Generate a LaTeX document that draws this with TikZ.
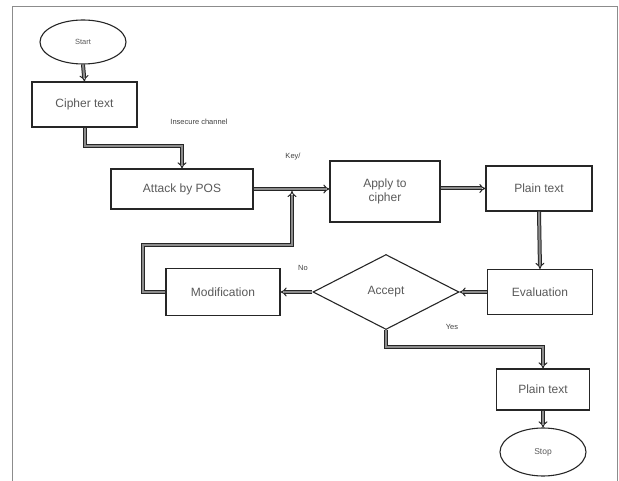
\documentclass[tikz,border=0pt]{standalone}
\usepackage{fontspec}
\setmainfont{Liberation Sans}
\usetikzlibrary{shapes.geometric,arrows.meta}
\tikzset{
  box/.style={draw=black!85, line width=1.1pt, rectangle, inner sep=2pt, text=black!65, font=\fontsize{12}{14}\selectfont, align=center},
  oval/.style={draw=black!85, line width=1.1pt, ellipse, inner sep=0pt, text=black!65},
  dia/.style={draw=black!85, line width=1.1pt, diamond, inner sep=0pt, text=black!65, font=\fontsize{12}{14}\selectfont},
  arr/.style={line width=1pt, draw=black!85, double=black!45, double distance=2pt, -{Implies}},
  lbl/.style={text=black!75, font=\fontsize{7.5}{8}\selectfont, inner sep=0pt},
  frame/.style={draw=black!45, line width=1pt}
}
\begin{document}
\begin{tikzpicture}[x=1pt,y=-1pt]
\useasboundingbox (0,0) rectangle (619,481);
\draw[frame] (12,481) -- (12,7) -- (617,7) -- (617,481);

\node[oval, minimum width=86pt, minimum height=44pt, font=\fontsize{7.5}{8}\selectfont] (start) at (83,42) {Start};
\node[box, minimum width=105pt, minimum height=45pt] (cipher) at (84.5,104.5) {Cipher text};
\node[box, minimum width=142pt, minimum height=40pt] (attack) at (182,189) {Attack by POS};
\node[box, minimum width=110pt, minimum height=61pt] (apply) at (385,191.5) {Apply to\\cipher};
\node[box, minimum width=106pt, minimum height=45pt] (plain1) at (539,188.5) {Plain text};
\node[box, minimum width=105pt, minimum height=45pt] (eval) at (540,292) {Evaluation};
\node[dia, minimum width=146pt, minimum height=75pt] (accept) at (386,292) {Accept};
\node[box, minimum width=114pt, minimum height=47pt] (modif) at (223,292) {Modification};
\node[box, minimum width=93pt, minimum height=41pt] (plain2) at (543,389.5) {Plain text};
\node[oval, minimum width=86pt, minimum height=48pt, font=\fontsize{8.5}{9}\selectfont] (stop) at (543,452) {Stop};

\node[lbl] (l1) at (199,122) {Insecure channel};
\node[lbl] (l2) at (293,157) {Key/};
\node[lbl] (l3) at (303,268) {No};
\node[lbl] (l4) at (452,327) {Yes};

\coordinate (c1) at (182,146);
\coordinate (m1) at (143,245);
\coordinate (m2) at (292,245);
\coordinate (m3) at (292,191);
\coordinate (y1) at (543,347);

\draw[arr] (start.south) -- (cipher.north);
\draw[arr] (cipher.south) |- (c1) -- (attack.north);
\draw[arr] (attack.east) -- (attack.east -| apply.west);
\draw[arr] (apply.east |- plain1.west) -- (plain1.west);
\draw[arr] (plain1.south) -- (eval.north);
\draw[arr] (eval.west) -- (accept.east);
\draw[arr] (accept.west) -- (modif.east);
\draw[arr] (modif.west) -| (m1) -- (m2) -- (m3);
\draw[arr] (accept.south) |- (y1) -- (plain2.north);
\draw[arr] (plain2.south) -- (stop.north);
\end{tikzpicture}
\end{document}
